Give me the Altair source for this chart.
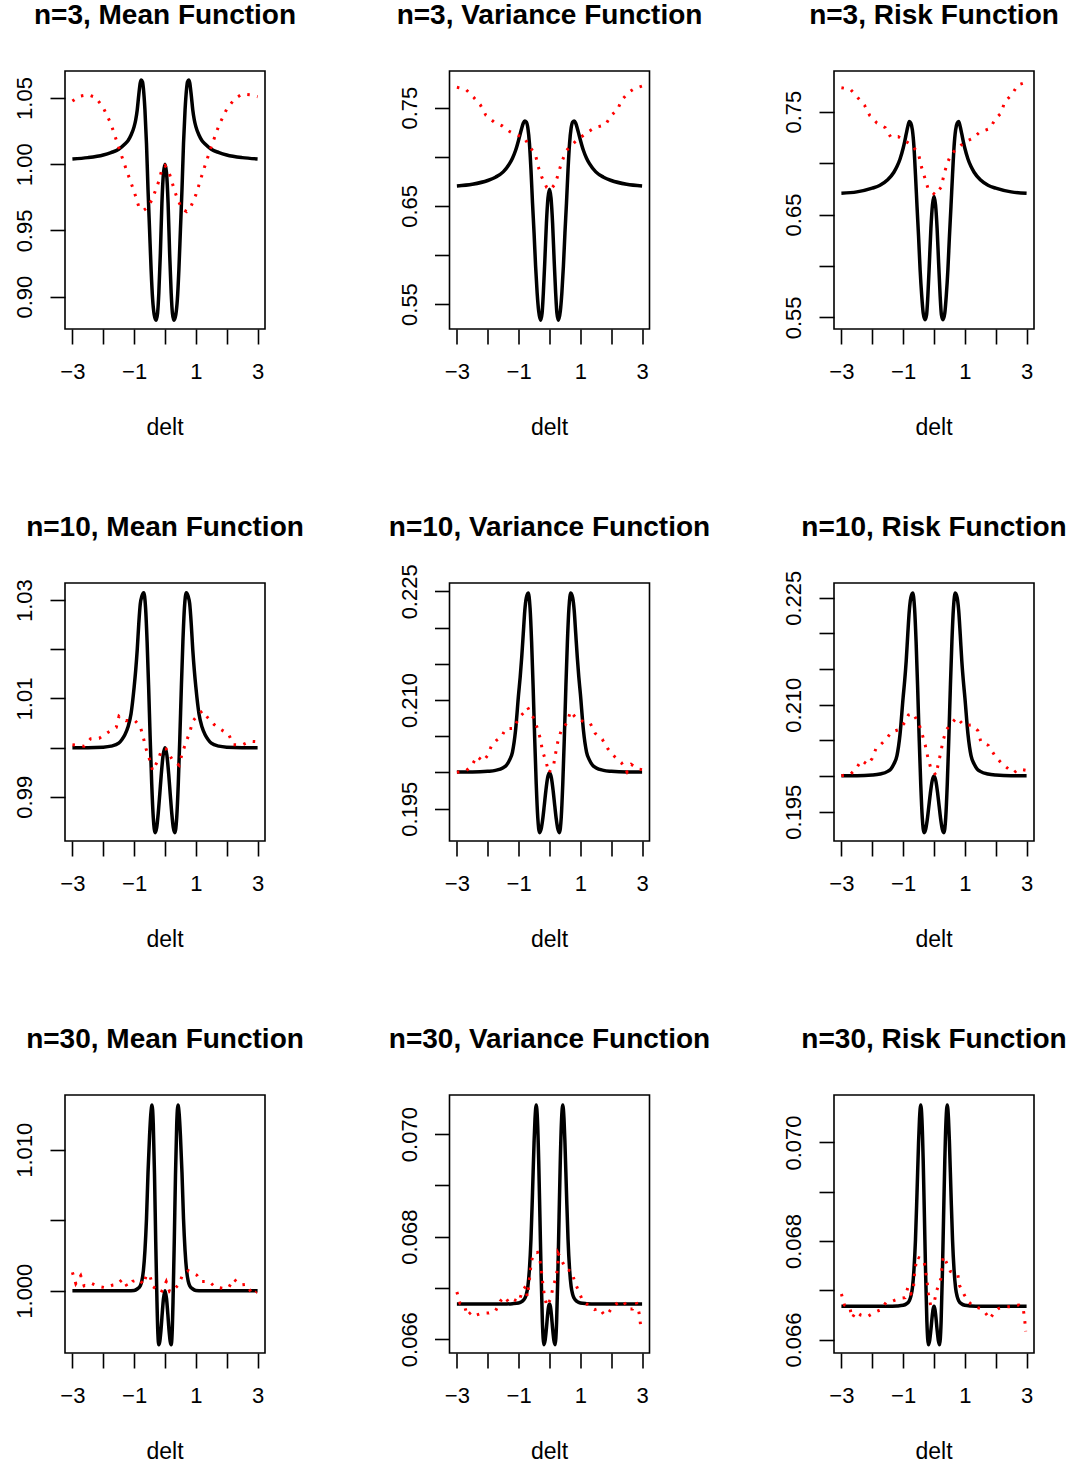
import altair as alt
import pandas as pd

FONT = "Liberation Sans"

TITLES = [
    "n=3, Mean Function", "n=3, Variance Function", "n=3, Risk Function",
    "n=10, Mean Function", "n=10, Variance Function", "n=10, Risk Function",
    "n=30, Mean Function", "n=30, Variance Function", "n=30, Risk Function",
]
X_LABEL = "delt"
X_TICKS = [-3, -2, -1, 0, 1, 2, 3]
X_TICK_LABELS = [(-3, "−3"), (-1, "−1"), (1, "1"), (3, "3")]
X_DOMAIN = [-3.24, 3.24]

# ---------------- row 1 (n=3) ----------------
P1_BX = [-3.0, -2.5, -2.0, -1.75, -1.5, -1.3, -1.2, -1.1, -1.0, -0.95, -0.9, -0.85, -0.8, -0.77, -0.73, -0.7,
         -0.65, -0.6, -0.55, -0.5, -0.45, -0.4, -0.35, -0.29, -0.24, -0.2, -0.15, -0.1, -0.05, 0.0,
         0.05, 0.1, 0.15, 0.2, 0.24, 0.29, 0.35, 0.4, 0.45, 0.5, 0.55, 0.6, 0.65, 0.7, 0.73, 0.77, 0.8,
         0.85, 0.9, 0.95, 1.0, 1.1, 1.2, 1.3, 1.5, 1.75, 2.0, 2.5, 3.0]
P1_BY = [1.0040, 1.0050, 1.0070, 1.0088, 1.0113, 1.0153, 1.0178, 1.0221, 1.0284, 1.0334, 1.0410, 1.0523,
         1.0616, 1.0636, 1.0623, 1.0573, 1.0410, 1.0158, 0.9807, 0.9505, 0.9204, 0.8977, 0.8864, 0.8822,
         0.8877, 0.9028, 0.9329, 0.9706, 0.9932, 1.0000,
         0.9932, 0.9706, 0.9329, 0.9028, 0.8877, 0.8822, 0.8864, 0.8977, 0.9204, 0.9505, 0.9807, 1.0158,
         1.0410, 1.0573, 1.0623, 1.0636, 1.0616, 1.0523, 1.0410, 1.0334, 1.0284, 1.0221, 1.0178, 1.0153,
         1.0113, 1.0088, 1.0070, 1.0050, 1.0040]
P1_RX = [-3.0, -2.75, -2.5, -2.25, -2.0, -1.75, -1.5, -1.25, -1.0, -0.85, -0.7, -0.55, -0.4, -0.3, -0.2,
         -0.1, 0.0, 0.1, 0.2, 0.3, 0.4, 0.55, 0.7, 0.85, 1.0, 1.25, 1.5, 1.75, 2.0, 2.25, 2.5, 2.75, 3.0]
P1_RY = [1.0477, 1.0515, 1.0525, 1.0505, 1.0427, 1.0304, 1.0128, 0.9957, 0.9794, 0.9681, 0.9651, 0.9676,
         0.9744, 0.9807, 0.9872, 0.9962, 0.9990, 0.9957, 0.9889, 0.9807, 0.9741, 0.9661, 0.9643, 0.9686,
         0.9769, 0.9957, 1.0133, 1.0296, 1.0417, 1.0492, 1.0530, 1.0525, 1.0510]

R1_VX = [-3.0, -2.5, -2.0, -1.75, -1.5, -1.3, -1.2, -1.1, -1.0, -0.95, -0.9, -0.85, -0.8, -0.75, -0.7,
         -0.65, -0.6, -0.55, -0.5, -0.45, -0.4, -0.35, -0.29, -0.24, -0.2, -0.15, -0.1, -0.05, 0.0,
         0.05, 0.1, 0.15, 0.2, 0.24, 0.29, 0.35, 0.4, 0.45, 0.5, 0.55, 0.6, 0.65, 0.7, 0.75, 0.8, 0.85,
         0.9, 0.95, 1.0, 1.1, 1.2, 1.3, 1.5, 1.75, 2.0, 2.5, 3.0]
P2_BY = [0.6703, 0.6720, 0.6758, 0.6792, 0.6846, 0.6927, 0.6985, 0.7063, 0.7171, 0.7232, 0.7290, 0.7341,
         0.7364, 0.7354, 0.7290, 0.7137, 0.6866, 0.6527, 0.6222, 0.5883, 0.5612, 0.5425, 0.5334, 0.5408,
         0.5612, 0.5951, 0.6324, 0.6578, 0.6669,
         0.6578, 0.6324, 0.5951, 0.5612, 0.5408, 0.5334, 0.5425, 0.5612, 0.5883, 0.6222, 0.6527, 0.6866,
         0.7137, 0.7290, 0.7354, 0.7364, 0.7341, 0.7290, 0.7232, 0.7171, 0.7063, 0.6985, 0.6927, 0.6846,
         0.6792, 0.6758, 0.6720, 0.6703]
P2_RX = [-3.0, -2.71, -2.46, -2.24, -2.06, -1.80, -1.53, -1.29, -1.08, -0.83, -0.65, -0.45, -0.37, -0.25,
         -0.09, 0.03, 0.19, 0.29, 0.40, 0.55, 0.71, 0.97, 1.22, 1.47, 1.81, 2.0, 2.20, 2.34, 2.58, 2.77, 3.0]
P2_RY = [0.7707, 0.7686, 0.7605, 0.7527, 0.7422, 0.7354, 0.7314, 0.7256, 0.7222, 0.7198, 0.7107, 0.7015,
         0.6903, 0.6792, 0.6686, 0.6663, 0.6727, 0.6832, 0.6951, 0.7063, 0.7120, 0.7188, 0.7246, 0.7297,
         0.7324, 0.7422, 0.7476, 0.7578, 0.7659, 0.7697, 0.7720]

P3_BY = [0.6707, 0.6720, 0.6756, 0.6785, 0.6837, 0.6911, 0.6966, 0.7040, 0.7144, 0.7209, 0.7283, 0.7354,
         0.7403, 0.7387, 0.7322, 0.7160, 0.6885, 0.6578, 0.6286, 0.5963, 0.5720, 0.5542, 0.5477, 0.5526,
         0.5704, 0.6028, 0.6367, 0.6594, 0.6675,
         0.6594, 0.6367, 0.6028, 0.5704, 0.5526, 0.5477, 0.5542, 0.5720, 0.5963, 0.6286, 0.6578, 0.6885,
         0.7160, 0.7322, 0.7387, 0.7403, 0.7354, 0.7283, 0.7209, 0.7144, 0.7040, 0.6966, 0.6911, 0.6837,
         0.6785, 0.6756, 0.6720, 0.6707]
P3_RX = [-3.0, -2.71, -2.47, -2.25, -2.08, -1.85, -1.58, -1.40, -1.16, -0.95, -0.68, -0.49, -0.41, -0.30,
         -0.19, 0.04, 0.23, 0.31, 0.41, 0.55, 0.73, 1.0, 1.25, 1.49, 1.81, 2.0, 2.17, 2.29, 2.53, 2.71, 2.95]
P3_RY = [0.7733, 0.7717, 0.7636, 0.7561, 0.7461, 0.7390, 0.7345, 0.7251, 0.7257, 0.7218, 0.7167, 0.7073,
         0.6966, 0.6859, 0.6749, 0.6691, 0.6765, 0.6869, 0.6982, 0.7086, 0.7134, 0.7206, 0.7238, 0.7303,
         0.7335, 0.7435, 0.7484, 0.7594, 0.7668, 0.7759, 0.7782]

# ---------------- row 2 (n=10) ----------------
R2_X = [-3.0, -2.5, -2.0, -1.75, -1.5, -1.4, -1.3, -1.2, -1.1, -1.0, -0.95, -0.9, -0.85, -0.8, -0.75, -0.69,
        -0.63, -0.58, -0.53, -0.48, -0.43, -0.38, -0.32, -0.27, -0.22, -0.17, -0.12, -0.06, 0.0,
        0.06, 0.12, 0.17, 0.22, 0.27, 0.32, 0.38, 0.43, 0.48, 0.53, 0.58, 0.63, 0.69, 0.75, 0.8, 0.85,
        0.9, 0.95, 1.0, 1.1, 1.2, 1.3, 1.4, 1.5, 1.75, 2.0, 2.5, 3.0]
P4_BY = [1.0000, 1.0000, 1.0001, 1.0003, 1.0009, 1.0016, 1.0026, 1.0042, 1.0069, 1.0123, 1.0157, 1.0199,
         1.0252, 1.0293, 1.0308, 1.0315, 1.0285, 1.0216, 1.0123, 1.0019, 0.9926, 0.9858, 0.9827, 0.9837,
         0.9866, 0.9905, 0.9946, 0.9985, 1.0000,
         0.9985, 0.9946, 0.9905, 0.9866, 0.9837, 0.9827, 0.9858, 0.9926, 1.0019, 1.0123, 1.0216, 1.0285,
         1.0315, 1.0308, 1.0293, 1.0252, 1.0199, 1.0157, 1.0123, 1.0069, 1.0042, 1.0026, 1.0016, 1.0009,
         1.0003, 1.0001, 1.0000, 1.0000]
P4_RX = [-3.0, -2.62, -2.41, -2.13, -1.85, -1.58, -1.49, -1.27, -0.99, -0.80, -0.70, -0.61, -0.49, -0.40,
         -0.23, -0.10, 0.04, 0.23, 0.46, 0.55, 0.67, 0.80, 0.90, 1.10, 1.22, 1.37, 1.59, 1.81, 2.06, 2.22,
         2.48, 2.77, 2.99]
P4_RY = [1.0006, 1.0003, 1.0018, 1.0019, 1.0031, 1.0041, 1.0064, 1.0055, 1.0056, 1.0043, 1.0020, 0.9997,
         0.9974, 0.9953, 0.9974, 0.9997, 0.9997, 0.9976, 0.9964, 0.9987, 1.0009, 1.0031, 1.0054, 1.0069,
         1.0075, 1.0062, 1.0047, 1.0037, 1.0027, 1.0006, 1.0005, 1.0013, 1.0012]

P5_BY = [0.20006, 0.20006, 0.20016, 0.20029, 0.20066, 0.20098, 0.20167, 0.20282, 0.20581, 0.21087, 0.21317,
         0.21593, 0.21915, 0.22237, 0.22412, 0.22477, 0.22270, 0.21805, 0.21175, 0.20471, 0.19841, 0.19376,
         0.19169, 0.19220, 0.19353, 0.19542, 0.19740, 0.19928, 0.19997,
         0.19928, 0.19740, 0.19542, 0.19353, 0.19220, 0.19169, 0.19376, 0.19841, 0.20471, 0.21175, 0.21805,
         0.22270, 0.22477, 0.22412, 0.22237, 0.21915, 0.21593, 0.21317, 0.21087, 0.20581, 0.20282, 0.20167,
         0.20098, 0.20066, 0.20029, 0.20016, 0.20006, 0.20006]
P5_RX = [-3.0, -2.71, -2.52, -2.35, -2.15, -2.01, -1.87, -1.72, -1.56, -1.42, -1.15, -0.99, -0.84, -0.71,
         -0.53, -0.39, -0.29, -0.23, -0.11, -0.02, 0.14, 0.20, 0.27, 0.38, 0.57, 0.68, 0.88, 1.12, 1.32,
         1.48, 1.71, 1.88, 2.10, 2.33, 2.51, 2.65, 2.86, 3.0]
P5_RY = [0.20002, 0.20020, 0.20094, 0.20223, 0.20154, 0.20232, 0.20379, 0.20443, 0.20489, 0.20604, 0.20609,
         0.20761, 0.20821, 0.20899, 0.20761, 0.20609, 0.20453, 0.20301, 0.20144, 0.19993, 0.20117, 0.20269,
         0.20425, 0.20581, 0.20687, 0.20844, 0.20738, 0.20701, 0.20678, 0.20540, 0.20457, 0.20333, 0.20223,
         0.20135, 0.20006, 0.20112, 0.20048, 0.20039]

P6_BY = [0.20005, 0.20005, 0.20014, 0.20028, 0.20065, 0.20098, 0.20168, 0.20285, 0.20589, 0.21103, 0.21336,
         0.21617, 0.21986, 0.22318, 0.22500, 0.22565, 0.22355, 0.21883, 0.21243, 0.20528, 0.19888, 0.19416,
         0.19206, 0.19252, 0.19383, 0.19565, 0.19752, 0.19930, 0.20000,
         0.19930, 0.19752, 0.19565, 0.19383, 0.19252, 0.19206, 0.19416, 0.19888, 0.20528, 0.21243, 0.21883,
         0.22355, 0.22565, 0.22500, 0.22318, 0.21986, 0.21617, 0.21336, 0.21103, 0.20589, 0.20285, 0.20168,
         0.20098, 0.20065, 0.20028, 0.20014, 0.20005, 0.20005]
P6_RX = [-3.0, -2.71, -2.52, -2.35, -2.15, -2.0, -1.87, -1.71, -1.55, -1.38, -1.14, -0.95, -0.83, -0.68,
         -0.49, -0.38, -0.28, -0.20, -0.10, 0.06, 0.14, 0.22, 0.29, 0.40, 0.59, 0.74, 0.97, 1.22, 1.42, 1.52,
         1.76, 1.96, 2.18, 2.44, 2.59, 2.74, 3.0]
P6_RY = [0.20005, 0.20023, 0.20107, 0.20220, 0.20159, 0.20248, 0.20397, 0.20449, 0.20514, 0.20617, 0.20650,
         0.20748, 0.20855, 0.20879, 0.20734, 0.20584, 0.20425, 0.20262, 0.20103, 0.20014, 0.20173, 0.20332,
         0.20491, 0.20650, 0.20752, 0.20818, 0.20710, 0.20715, 0.20636, 0.20477, 0.20430, 0.20294, 0.20182,
         0.20089, 0.20047, 0.20098, 0.20079]

# ---------------- row 3 (n=30) ----------------
P7_BX = [-3.0, -2.0, -1.5, -1.2, -1.0, -0.9, -0.8, -0.75, -0.7, -0.65, -0.6, -0.55, -0.5, -0.46, -0.42, -0.38,
         -0.34, -0.3, -0.26, -0.23, -0.2, -0.17, -0.13, -0.09, -0.05, 0.0,
         0.05, 0.09, 0.13, 0.17, 0.2, 0.23, 0.26, 0.3, 0.34, 0.38, 0.42, 0.46, 0.5, 0.55, 0.6, 0.65, 0.7,
         0.75, 0.8, 0.9, 1.0, 1.2, 1.5, 2.0, 3.0]
P7_BY = [1.0000, 1.0000, 1.0000, 1.0000, 1.00002, 1.00012, 1.00035, 1.00069, 1.00142, 1.00284, 1.00508,
         1.00839, 1.01099, 1.01253, 1.01317, 1.01182, 1.00823, 1.00345, 0.99922, 0.99693, 0.99617, 0.99638,
         0.99721, 0.99839, 0.99943, 1.0000,
         0.99943, 0.99839, 0.99721, 0.99638, 0.99617, 0.99693, 0.99922, 1.00345, 1.00823, 1.01182, 1.01317,
         1.01253, 1.01099, 1.00839, 1.00508, 1.00284, 1.00142, 1.00069, 1.00035, 1.00012, 1.00002, 1.0000,
         1.0000, 1.0000, 1.0000]
P7_RX = [-3.0, -2.89, -2.73, -2.62, -2.38, -2.16, -1.92, -1.69, -1.55, -1.37, -1.22, -1.05, -0.84, -0.69,
         -0.60, -0.48, -0.39, -0.12, 0.04, 0.15, 0.26, 0.44, 0.57, 0.76, 0.92, 1.03, 1.16, 1.43, 1.62, 1.86,
         2.06, 2.22, 2.45, 2.65, 2.83, 2.97]
P7_RY = [1.00130, 1.00050, 1.00106, 1.00035, 1.00052, 1.00031, 1.00021, 1.00040, 1.00045, 1.00083, 1.00028,
         1.00066, 1.00080, 1.00043, 1.00116, 1.00099, 1.00028, 0.99988, 1.00064, 0.99993, 1.00000, 1.00043,
         1.00111, 1.00142, 1.00123, 1.00111, 1.00066, 1.00066, 1.00026, 1.00017, 1.00021, 1.00083, 1.00040,
         1.00045, 0.99972, 0.99993]

R3_VX = [-3.0, -2.0, -1.5, -1.2, -1.0, -0.9, -0.8, -0.75, -0.7, -0.65, -0.6, -0.55, -0.5, -0.47, -0.43, -0.39,
         -0.35, -0.31, -0.27, -0.23, -0.18, -0.14, -0.1, -0.06, -0.03, 0.0,
         0.03, 0.06, 0.1, 0.14, 0.18, 0.23, 0.27, 0.31, 0.35, 0.39, 0.43, 0.47, 0.5, 0.55, 0.6, 0.65, 0.7,
         0.75, 0.8, 0.9, 1.0, 1.2, 1.5, 2.0, 3.0]
P8_BY = [0.066686, 0.066686, 0.066686, 0.066693, 0.066706, 0.066732, 0.066797, 0.066875, 0.067031, 0.067369,
         0.067954, 0.068865, 0.069841, 0.070296, 0.070569, 0.070276, 0.069483, 0.068377, 0.067239, 0.066335,
         0.065893, 0.065984, 0.066211, 0.066485, 0.066634, 0.066686,
         0.066634, 0.066485, 0.066211, 0.065984, 0.065893, 0.066335, 0.067239, 0.068377, 0.069483, 0.070276,
         0.070569, 0.070296, 0.069841, 0.068865, 0.067954, 0.067369, 0.067031, 0.066875, 0.066797, 0.066732,
         0.066706, 0.066693, 0.066686, 0.066686, 0.066686]
P8_RX = [-3.0, -2.90, -2.76, -2.67, -2.55, -2.43, -2.19, -1.96, -1.76, -1.60, -1.45, -1.31, -1.15, -0.99,
         -0.88, -0.77, -0.72, -0.67, -0.63, -0.59, -0.51, -0.39, -0.31, -0.26, -0.22, -0.17, -0.09, 0.04,
         0.11, 0.22, 0.27, 0.28, 0.37, 0.52, 0.73, 0.82, 0.95, 1.08, 1.24, 1.46, 1.62, 1.77, 1.89, 2.04,
         2.24, 2.41, 2.54, 2.69, 2.81, 2.90, 2.95]
P8_RY = [0.066920, 0.066699, 0.066673, 0.066459, 0.066524, 0.066459, 0.066504, 0.066511, 0.066537, 0.066738,
         0.066829, 0.066712, 0.066771, 0.066725, 0.066946, 0.067031, 0.066829, 0.067050, 0.067278, 0.067512,
         0.067675, 0.067694, 0.067545, 0.067324, 0.067102, 0.066868, 0.066647, 0.066790, 0.067011, 0.067226,
         0.067441, 0.067675, 0.067577, 0.067369, 0.067317, 0.067102, 0.066933, 0.066738, 0.066673, 0.066576,
         0.066602, 0.066472, 0.066491, 0.066634, 0.066719, 0.066732, 0.066589, 0.066589, 0.066725, 0.066517,
         0.066283]

P9_BY = [0.066673, 0.066673, 0.066673, 0.066680, 0.066694, 0.066721, 0.066788, 0.066876, 0.067046, 0.067411,
         0.068027, 0.068981, 0.070003, 0.070477, 0.070761, 0.070457, 0.069631, 0.068481, 0.067296, 0.066355,
         0.065895, 0.065983, 0.066200, 0.066464, 0.066613, 0.066673,
         0.066613, 0.066464, 0.066200, 0.065983, 0.065895, 0.066355, 0.067296, 0.068481, 0.069631, 0.070457,
         0.070761, 0.070477, 0.070003, 0.068981, 0.068027, 0.067411, 0.067046, 0.066876, 0.066788, 0.066721,
         0.066694, 0.066680, 0.066673, 0.066673, 0.066673]
P9_RX = [-3.0, -2.90, -2.73, -2.66, -2.52, -2.38, -2.16, -1.91, -1.74, -1.55, -1.41, -1.28, -1.09, -0.94,
         -0.84, -0.74, -0.67, -0.65, -0.61, -0.55, -0.40, -0.33, -0.27, -0.22, -0.18, -0.11, 0.01, 0.09,
         0.22, 0.26, 0.30, 0.39, 0.53, 0.77, 0.83, 0.97, 1.12, 1.30, 1.49, 1.65, 1.81, 1.95, 2.10, 2.28,
         2.46, 2.60, 2.75, 2.89, 2.94, 2.97]
P9_RY = [0.066924, 0.066700, 0.066667, 0.066437, 0.066565, 0.066497, 0.066464, 0.066558, 0.066599, 0.066755,
         0.066761, 0.066795, 0.066836, 0.066849, 0.067073, 0.066931, 0.066971, 0.067208, 0.067438, 0.067675,
         0.067635, 0.067621, 0.067391, 0.067154, 0.066924, 0.066694, 0.066768, 0.066998, 0.067228, 0.067452,
         0.067689, 0.067580, 0.067384, 0.067323, 0.067093, 0.066917, 0.066761, 0.066667, 0.066633, 0.066552,
         0.066416, 0.066552, 0.066633, 0.066660, 0.066667, 0.066694, 0.066700, 0.066633, 0.066396, 0.066166]

# y-axis domains, ticks and tick labels
Y_DOMAINS = [
    [0.8756, 1.0704], [0.5246, 0.7873], [0.5387, 0.7895],
    [0.9810, 1.0335], [0.19054, 0.22615], [0.19089, 0.22706],
    [0.99558, 1.01388], [0.065730, 0.070764], [0.065726, 0.070964],
]
YT_A = [0.90, 0.95, 1.00, 1.05]
YL_A = ["0.90", "0.95", "1.00", "1.05"]
YT_B = [0.55, 0.60, 0.65, 0.70, 0.75]
YL_B = ["0.55", "0.65", "0.75"]
YT_C = [0.99, 1.00, 1.01, 1.02, 1.03]
YL_C = ["0.99", "1.01", "1.03"]
YT_D = [0.195, 0.200, 0.205, 0.210, 0.215, 0.220, 0.225]
YL_D = ["0.195", "0.210", "0.225"]
YT_E = [1.000, 1.005, 1.010]
YL_E = ["1.000", "1.010"]
YT_F = [0.066, 0.067, 0.068, 0.069, 0.070]
YL_F = ["0.066", "0.068", "0.070"]

PANELS = [
    (P1_BX, P1_BY, P1_RX, P1_RY, YT_A, YL_A),
    (R1_VX, P2_BY, P2_RX, P2_RY, YT_B, YL_B),
    (R1_VX, P3_BY, P3_RX, P3_RY, YT_B, YL_B),
    (R2_X, P4_BY, P4_RX, P4_RY, YT_C, YL_C),
    (R2_X, P5_BY, P5_RX, P5_RY, YT_D, YL_D),
    (R2_X, P6_BY, P6_RX, P6_RY, YT_D, YL_D),
    (P7_BX, P7_BY, P7_RX, P7_RY, YT_E, YL_E),
    (R3_VX, P8_BY, P8_RX, P8_RY, YT_F, YL_F),
    (R3_VX, P9_BY, P9_RX, P9_RY, YT_F, YL_F),
]

W, H = 200, 258


def label_expr(pairs):
    parts = [f"abs(datum.value - ({v})) < 1e-7 ? '{s}'" for v, s in pairs]
    return " : ".join(parts) + " : ''"


X_EXPR = label_expr(X_TICK_LABELS)


def make_panel(title, bx, by, rx, ry, ydom, yticks, ylabels):
    xs = alt.Scale(domain=X_DOMAIN, nice=False, zero=False)
    ys = alt.Scale(domain=ydom, nice=False, zero=False)
    xax = alt.Axis(values=X_TICKS, labelExpr=X_EXPR, title=None, grid=False, domain=False,
                   tickSize=15, tickWidth=1.6, tickColor="black",
                   labelFont=FONT, labelFontSize=22, labelColor="black", labelPadding=17.5,
                   labelFlush=False, labelOverlap=False, labelAlign="center", labelBaseline="top")
    yexpr = label_expr([(float(s), s) for s in ylabels])
    yax = alt.Axis(values=yticks, labelExpr=yexpr, title=None, grid=False, domain=False,
                   tickSize=15, tickWidth=1.6, tickColor="black",
                   labelFont=FONT, labelFontSize=22, labelColor="black", labelPadding=18.5,
                   labelAngle=270, labelAlign="center", labelBaseline="alphabetic",
                   labelFlush=False, labelOverlap=False)
    enc = dict(x=alt.X("delt:Q", scale=xs, axis=xax), y=alt.Y("value:Q", scale=ys, axis=yax))
    black = alt.Chart(pd.DataFrame({"delt": bx, "value": by})).mark_line(
        color="black", strokeWidth=3.5, interpolate="monotone").encode(**enc)
    red = alt.Chart(pd.DataFrame({"delt": rx, "value": ry})).mark_line(
        color="red", strokeWidth=3, strokeDash=[2.5, 7.5], strokeCap="butt").encode(**enc)
    ttl = alt.Chart(pd.DataFrame({"t": [title]})).mark_text(
        font=FONT, fontSize=28, fontWeight="bold", align="center", baseline="alphabetic",
        color="black").encode(x=alt.value(W / 2), y=alt.value(-47), text="t:N")
    xl = alt.Chart(pd.DataFrame({"t": [X_LABEL]})).mark_text(
        font=FONT, fontSize=23, align="center", baseline="alphabetic",
        color="black").encode(x=alt.value(W / 2), y=alt.value(364), text="t:N")
    return alt.layer(black, red, ttl, xl).properties(width=W, height=H)


panels = [make_panel(TITLES[i], *PANELS[i][:4], Y_DOMAINS[i], PANELS[i][4], PANELS[i][5])
          for i in range(9)]

chart = alt.concat(*panels, columns=3, spacing={"row": 254, "column": 184.5}, bounds="flush").properties(
    padding={"left": 12, "top": 1, "right": 5, "bottom": 5},
    background="white",
).configure_view(stroke="black", strokeWidth=1.6)

chart.save("out.html", embed_options={"renderer": "svg", "actions": False})
